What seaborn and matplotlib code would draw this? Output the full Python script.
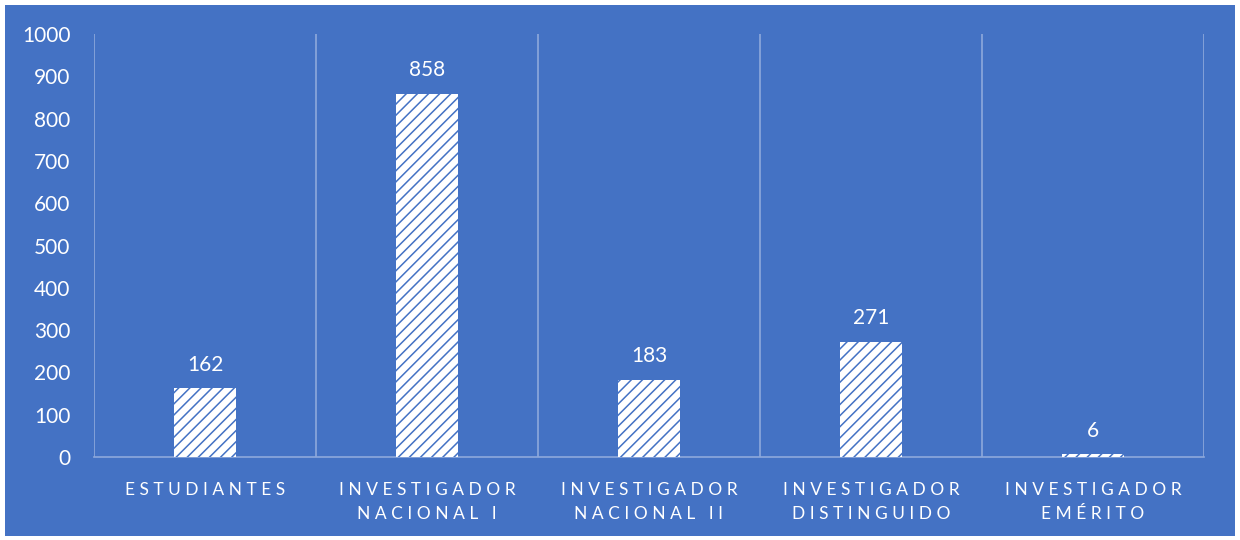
import pandas as pd
import seaborn as sns
import matplotlib.pyplot as plt
from matplotlib.patches import Rectangle

# Data
categorias = ["ESTUDIANTES", "INVESTIGADOR\nNACIONAL I", "INVESTIGADOR\nNACIONAL II",
              "INVESTIGADOR\nDISTINGUIDO", "INVESTIGADOR\nEMÉRITO"]
valores = [162, 858, 183, 271, 6]
yticks = [0, 100, 200, 300, 400, 500, 600, 700, 800, 900, 1000]

AZUL = "#4472C4"
REJILLA = "#8EA9DB"


def espaciar(texto):
    # imitate the wide letter spacing of the category labels
    lineas = []
    for linea in texto.split("\n"):
        palabras = [" ".join(p) for p in linea.split(" ")]
        lineas.append("   ".join(palabras))
    return "\n".join(lineas)


df = pd.DataFrame({"categoria": categorias, "valor": valores})

plt.rcParams["font.family"] = ["Lato", "DejaVu Sans"]
plt.rcParams["hatch.linewidth"] = 1.1

fig = plt.figure(figsize=(12.4, 5.4), dpi=100, facecolor="white")
fig.patches.append(Rectangle((5 / 1240, 4 / 540), 1230 / 1240, 531 / 540,
                             transform=fig.transFigure, facecolor=AZUL,
                             edgecolor="none", zorder=-5))
ax = fig.add_axes([94 / 1240, 1 - 457 / 540, 1110 / 1240, 423 / 540])
ax.set_facecolor(AZUL)

sns.barplot(data=df, x="categoria", y="valor", color="white", saturation=1,
            width=0.275, ax=ax, zorder=3)

for p in ax.patches:
    p.set_hatch("///")
    p.set_edgecolor(AZUL)
    p.set_linewidth(0)

for i, v in enumerate(valores):
    ax.annotate(str(v), (i, v), xytext=(0, 10), textcoords="offset points",
                ha="center", va="bottom", color="white", fontsize=15)

ax.set_ylim(0, 1000)
ax.set_xlim(-0.5, len(categorias) - 0.5)
ax.set_yticks(yticks)
ax.set_yticklabels([str(t) for t in yticks], color="white", fontsize=15)
ax.set_xticks(range(len(categorias)))
ax.set_xticklabels([espaciar(c) for c in categorias], color="white",
                   fontsize=12.5, linespacing=1.65, va="top")
ax.set_xlabel("")
ax.set_ylabel("")
ax.tick_params(axis="both", length=0)
ax.tick_params(axis="x", pad=18)
ax.tick_params(axis="y", pad=17)

# vertical separators between categories
ax.set_xticks([i - 0.5 for i in range(len(categorias) + 1)], minor=True)
ax.tick_params(axis="x", which="minor", length=0)
ax.grid(False)
ax.grid(True, axis="x", which="minor", color=REJILLA, linewidth=1.2, zorder=1)
for s in ["top", "right", "left"]:
    ax.spines[s].set_visible(False)
ax.spines["bottom"].set_color(REJILLA)
ax.spines["bottom"].set_linewidth(1.2)

fig.savefig("out.png", dpi=100, facecolor="white")
